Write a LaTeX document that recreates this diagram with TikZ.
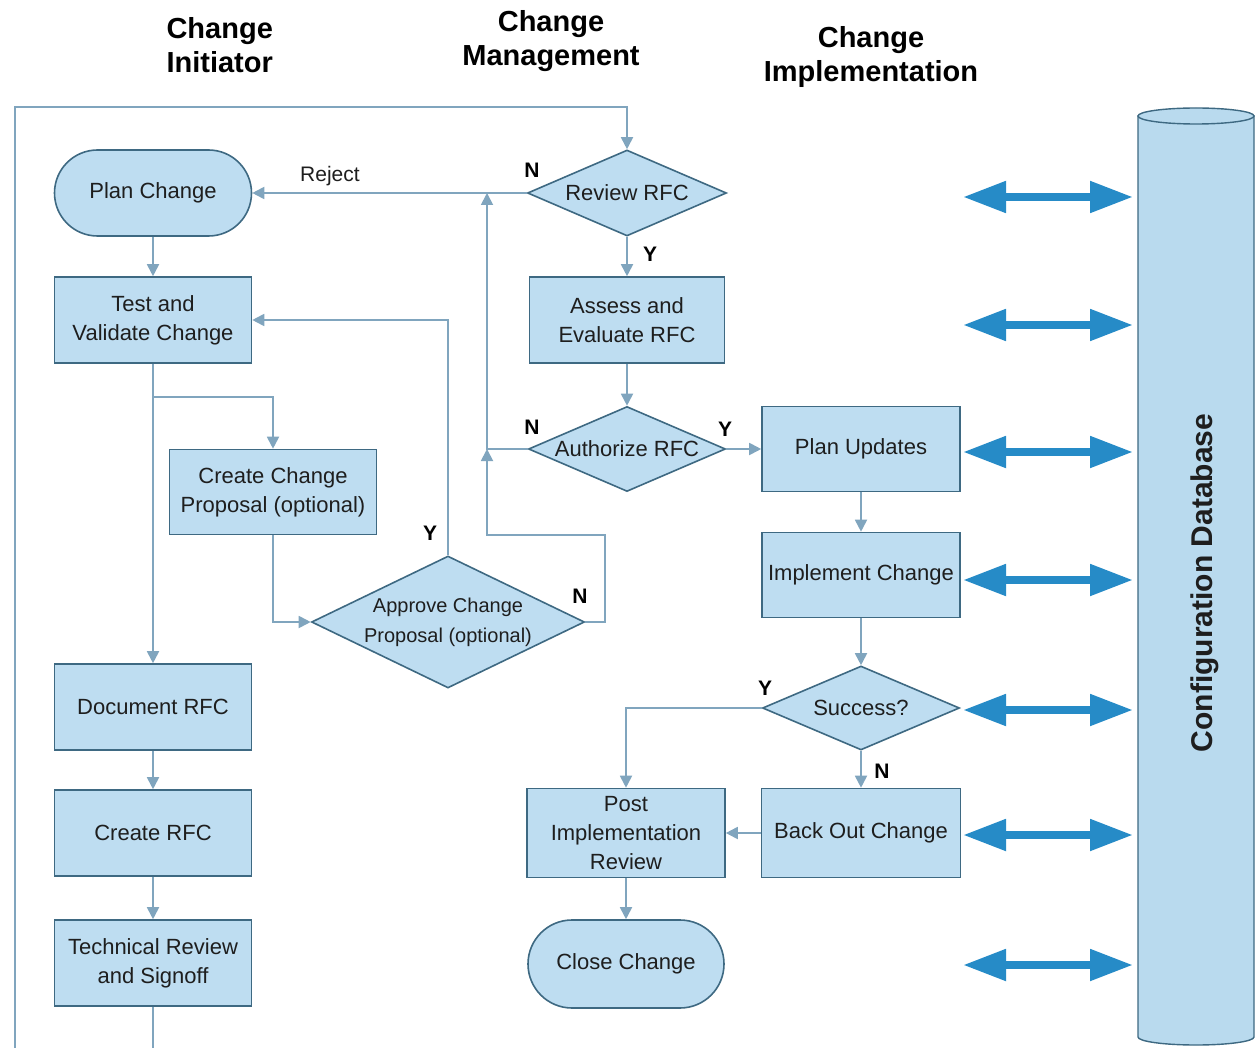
\documentclass[tikz,border=0pt]{standalone}
\usepackage{fontspec}
\setmainfont{Liberation Sans}
\usetikzlibrary{shapes.geometric,arrows.meta}
\definecolor{nfill}{RGB}{190,221,241}
\definecolor{nborder}{RGB}{62,105,130}
\definecolor{lcol}{RGB}{128,165,190}
\definecolor{bigarrow}{RGB}{38,139,199}
\definecolor{dbfill}{RGB}{185,218,238}
\definecolor{txt}{RGB}{30,30,30}
\begin{document}
\begin{tikzpicture}[x=1pt,y=-1pt,
 box/.style={draw=nborder, line width=1.6pt, fill=nfill, rectangle, minimum width=197pt, minimum height=86pt, inner sep=0pt, align=center, text=txt, font=\fontsize{22}{29}\selectfont},
 term/.style={box, rounded corners=43pt},
 dia/.style={draw=nborder, line width=1.6pt, fill=nfill, diamond, inner sep=0pt},
 diatext/.style={text=txt, align=center, font=\fontsize{22}{29}\selectfont},
 flow/.style={draw=lcol, line width=1.8pt, -{Triangle[length=12pt,width=12pt]}},
 yn/.style={font=\bfseries\fontsize{21}{21}\selectfont, text=black},
 hdr/.style={font=\bfseries\fontsize{29}{34}\selectfont, text=black},
 dbl/.style={draw=bigarrow, line width=8pt, {Triangle[length=43pt,width=30pt]}-{Triangle[length=43pt,width=30pt]}}
]
\useasboundingbox (0,0) rectangle (1255,1048);
\fill[white] (0,0) rectangle (1255,1048);
\begin{scope}
\clip (0,0) rectangle (1255,1048);

% headers
\node[hdr, align=left, anchor=west] (h1) at (163,45) {Change\\Initiator};
\node[hdr, align=center] (h2) at (551,41) {Change\\Management};
\node[hdr, align=center] (h3) at (871,57) {Change\\Implementation};

% left column
\node[term] (pc) at (153,193) {Plan Change};
\node[box] (tv) at (153,320) {Test and\\Validate Change};
\node[box, minimum width=207pt, minimum height=85pt] (ccp) at (273,492) {Create Change\\Proposal (optional)};
\node[box] (doc) at (153,707) {Document RFC};
\node[box] (crfc) at (153,833) {Create RFC};
\node[box] (tech) at (153,963) {Technical Review\\and Signoff};

% middle column
\node[dia, minimum width=199pt, minimum height=86pt] (rev) at (627,193) {};
\node[diatext] at (rev) {Review RFC};
\node[box, minimum width=195pt] (ass) at (627,320) {Assess and\\Evaluate RFC};
\node[dia, minimum width=197pt, minimum height=85pt] (auth) at (627,449) {};
\node[diatext] at (auth) {Authorize RFC};
\node[dia, minimum width=273pt, minimum height=132pt] (apv) at (448,622) {};
\node[diatext, font=\fontsize{20}{30}\selectfont] at (apv) {Approve Change\\Proposal (optional)};
\node[box, minimum width=198pt, minimum height=89pt] (pir) at (626,833) {Post\\Implementation\\Review};
\node[term, minimum width=196pt, minimum height=88pt, rounded corners=44pt] (close) at (626,964) {Close Change};

% right column
\node[box, minimum width=198pt, minimum height=85pt] (pu) at (861,449) {Plan Updates};
\node[box, minimum width=198pt, minimum height=85pt] (impl) at (861,575) {Implement Change};
\node[dia, minimum width=197pt, minimum height=84pt] (succ) at (861,708) {};
\node[diatext] at (succ) {Success?};
\node[box, minimum width=199pt, minimum height=89pt] (bo) at (861,833) {Back Out Change};

% database cylinder
\path[fill=dbfill, draw=nborder, line width=1.4pt] (1138,116) -- (1138,1037) arc[start angle=180, end angle=360, x radius=58pt, y radius=8pt] -- (1254,116) -- cycle;
\draw[fill=dbfill, draw=nborder, line width=1.4pt] (1196,116) ellipse [x radius=58pt, y radius=8pt];
\node[rotate=90, font=\bfseries\fontsize{30}{30}\selectfont, text=txt] (db) at (1205,583) {Configuration Database};

% big double arrows
\foreach \yy/\nm in {197/a1,325/a2,452/a3,580/a4,710/a5,835/a6,965/a7}{
  \coordinate (\nm l) at (963,\yy);
  \coordinate (\nm r) at (1133,\yy);
  \draw[dbl] (\nm l) -- (\nm r);
}

% coordinates for bends
\coordinate (top) at (15,107);
\coordinate (bl) at (15,1070);
\coordinate (bt) at (153,1070);
\coordinate (brA) at (153,397);
\coordinate (mid) at (487,193);
\coordinate (midA) at (487,449);
\coordinate (midB) at (487,535);
\coordinate (nR) at (605,535);
\coordinate (nRb) at (605,622);
\coordinate (yUp) at (448,320);
\coordinate (sL) at (626,708);

% connectors
\draw[flow] (tech.south) -- (bt) -- (bl) -- (top) -| (rev.north);
\draw[flow] (rev.west) -- (pc.east);
\draw[flow] (pc.south) -- (tv.north);
\draw[flow] (tv.south) -- (doc.north);
\draw[flow] (brA) -| (ccp.north);
\draw[flow] (ccp.south) |- (apv.west);
\draw[flow] (apv.north) -- (yUp) -- (tv.east);
\draw[flow] (apv.east) -- (nRb) -- (nR) -- (midB) -- (midA);
\draw[flow] (auth.west) -- (midA) -- (mid);
\draw[flow] (rev.south) -- (ass.north);
\draw[flow] (ass.south) -- (auth.north);
\draw[flow] (auth.east) -- (pu.west);
\draw[flow] (pu.south) -- (impl.north);
\draw[flow] (impl.south) -- (succ.north);
\draw[flow] (succ.west) -- (sL) -- (pir.north);
\draw[flow] (succ.south) -- (bo.north);
\draw[flow] (bo.west) -- (pir.east);
\draw[flow] (pir.south) -- (close.north);
\draw[flow] (doc.south) -- (crfc.north);
\draw[flow] (crfc.south) -- (tech.north);

% labels
\node[font=\fontsize{21}{21}\selectfont, text=txt] (rej) at (330,176) {Reject};
\node[yn] (l1) at (532,170) {N};
\node[yn] (l2) at (650,254) {Y};
\node[yn] (l3) at (532,427) {N};
\node[yn] (l4) at (725,429) {Y};
\node[yn] (l5) at (430,533) {Y};
\node[yn] (l6) at (580,596) {N};
\node[yn] (l7) at (765,688) {Y};
\node[yn] (l8) at (882,771) {N};
\end{scope}
\end{tikzpicture}
\end{document}
